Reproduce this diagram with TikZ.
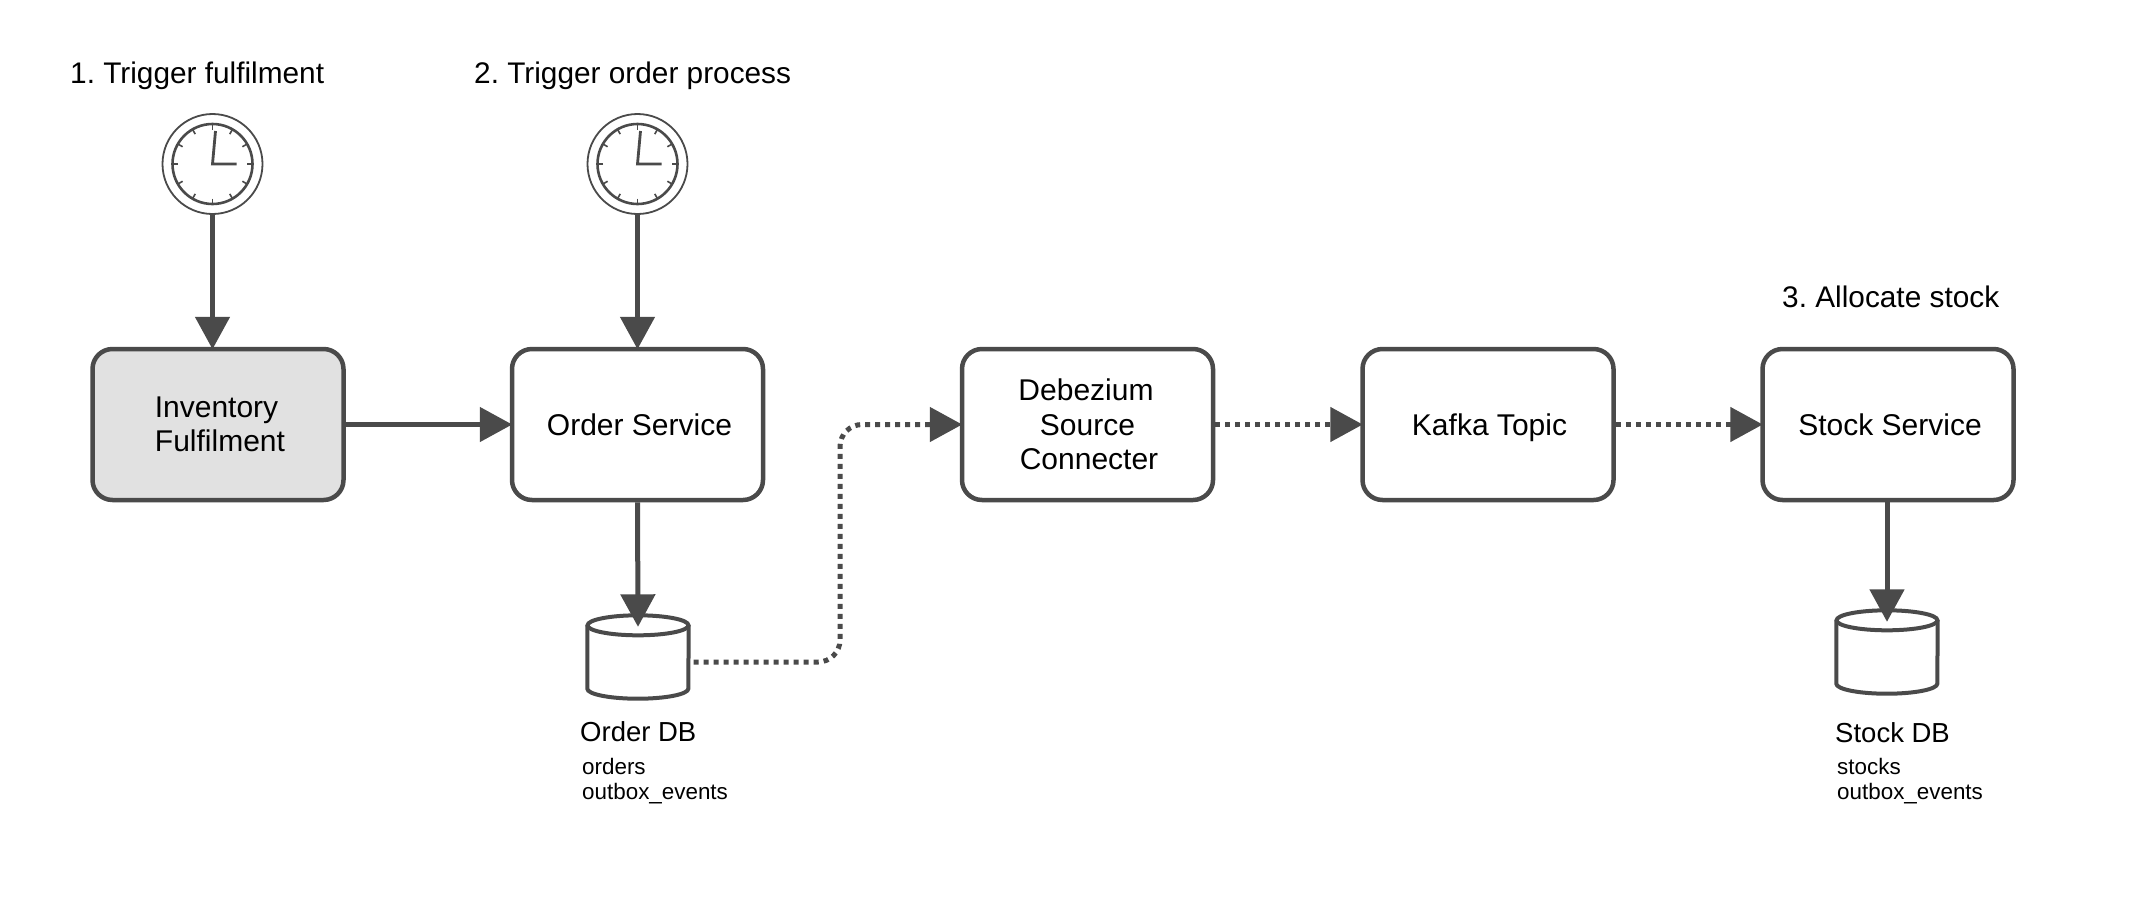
\documentclass[tikz,border=0pt]{standalone}
\usepackage{fontspec}
\setmainfont{Liberation Sans}
\usetikzlibrary{arrows.meta,calc}
\definecolor{ink}{HTML}{4A4A4A}
\definecolor{procfill}{HTML}{E1E1E1}
\tikzset{
  x=1pt,y=-1pt,
  proc/.style={draw=ink,line width=4.5pt,rounded corners=20pt,minimum width=251pt,minimum height=151pt,inner sep=0pt,align=center,text=black,font=\fontsize{30}{34.5}\selectfont},
  caption/.style={anchor=base west,inner sep=0pt,text=black,font=\fontsize{29.8}{34}\selectfont},
  dblabel/.style={anchor=base west,inner sep=0pt,text=black,font=\fontsize{27.5}{32}\selectfont},
  tables/.style={anchor=north west,inner sep=0pt,align=left,text=black,font=\fontsize{22.4}{25}\selectfont},
  flow/.style={draw=ink,line width=5pt,shorten >=-2.5pt,-{Triangle[length=32.5pt,width=34pt]}},
  async/.style={flow,dash pattern=on 5pt off 5pt,rounded corners=22pt},
  clockring/.style={circle,draw=ink,line width=1.8pt,minimum size=100pt,inner sep=0pt},
  storage/.style={inner sep=0pt,minimum width=101pt,minimum height=83pt},
}
\newcommand{\clockface}[1]{%
  \draw[ink,line width=2.6pt] (#1) circle[radius=40pt];
  \foreach \a in {0,30,...,330}
    \draw[ink,line width=1.6pt] (#1)++(\a:34.5pt) -- ++(\a:5.5pt);
  \draw[ink,line width=2.8pt] ($(#1)+(3,-33)$) -- (#1) -- ($(#1)+(24,0)$);
}
\newcommand{\dbshape}[1]{%
  \draw[ink,line width=4pt,fill=white]
    ($(#1.north west)+(0,10)$) -- ($(#1.south west)+(0,-10)$)
    arc[start angle=180,end angle=360,x radius=50.5pt,y radius=10pt]
    -- ($(#1.north east)+(0,10)$);
  \draw[ink,line width=4pt,fill=white] ($(#1.north)+(0,10)$) ellipse[x radius=50.5pt,y radius=10pt];
}
\begin{document}
\frenchspacing
\begin{tikzpicture}
\useasboundingbox (0,0) rectangle (2144,914);
\fill[white] (0,0) rectangle (2144,914);
% captions
\node[caption] (cap1) at (70,83) {1. Trigger fulfilment};
\node[caption] (cap2) at (474,83) {2. Trigger order process};
\node[caption] (cap3) at (1782,307) {3. Allocate stock};
% clocks
\node[clockring] (clock1) at (212.5,164) {};
\node[clockring] (clock2) at (637.5,164) {};
\clockface{clock1.center}
\clockface{clock2.center}
% process boxes
\node[proc,fill=procfill] (inv) at (218,424.5) {Inventory\hspace*{3pt}\\\hspace*{4pt}Fulfilment};
\node[proc] (order) at (637.5,424.5) {\hspace*{4pt}Order Service};
\node[proc] (deb) at (1087.5,424.5) {Debezium\hspace*{3pt}\\Source\hspace*{3pt}\\\hspace*{3pt}Connecter};
\node[proc] (kafka) at (1488,424.5) {\raisebox{0pt}[\height][0pt]{\hspace*{3pt}Kafka Topic}};
\node[proc] (stock) at (1888,424.5) {\hspace*{4pt}Stock Service};
% databases
\node[storage] (odb) at (638,657) {};
\node[storage] (sdb) at (1887,652) {};
\dbshape{odb}
\dbshape{sdb}
\node[dblabel] (odbl) at (580,741) {Order DB};
\node[dblabel] (sdbl) at (1835,742) {Stock DB};
\node[tables] (otab) at (582,758) {orders\\outbox\_events};
\node[tables] (stab) at (1837,758) {stocks\\outbox\_events};
% connectors
\draw[flow] (clock1.south) -- (clock1.south |- inv.north);
\draw[flow] (clock2.south) -- (clock2.south |- order.north);
\draw[flow] (inv.east) -- (order.west);
\draw[flow] (order.south) -- ($(odb.north)+(0,9)$);
\draw[flow] (sdb.north |- stock.south) -- ($(sdb.north)+(0,9)$);
\coordinate (bend) at (840,424.5);
\draw[async] ($(odb.east)+(5,5)$) -| (bend) -- (deb.west);
\draw[async] (deb.east) -- (kafka.west);
\draw[async] (kafka.east) -- (stock.west);
\end{tikzpicture}
\end{document}
